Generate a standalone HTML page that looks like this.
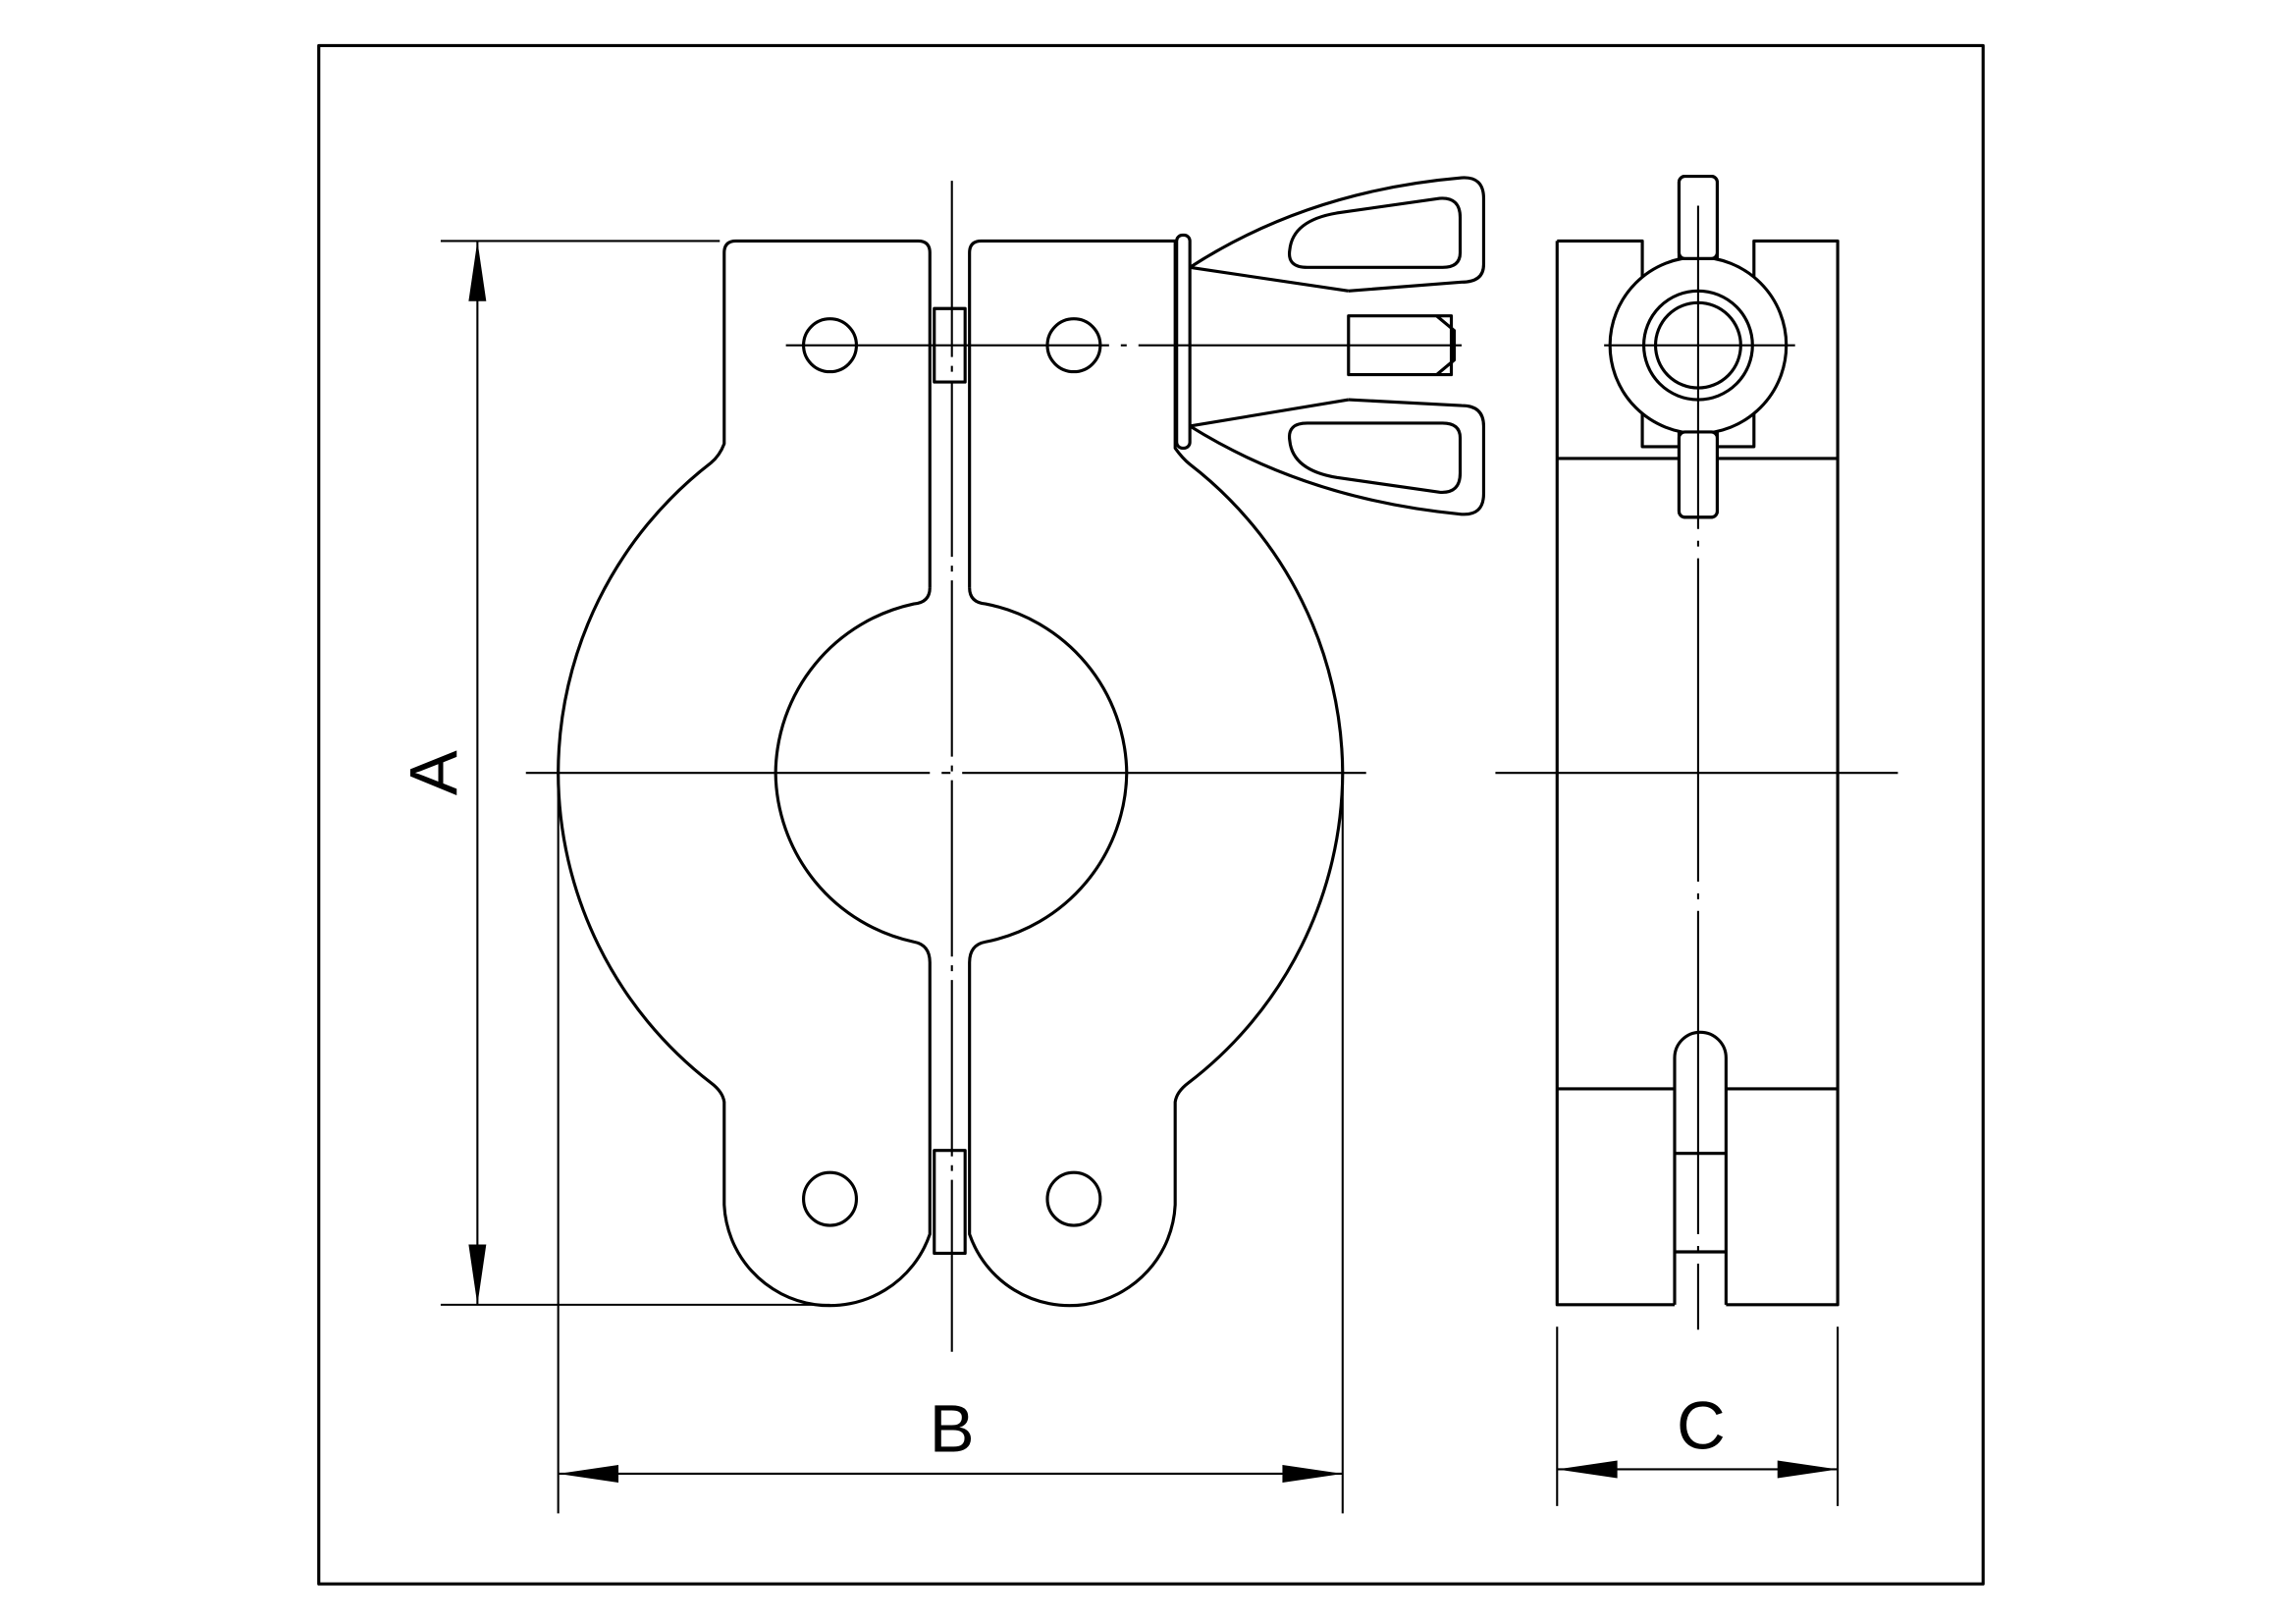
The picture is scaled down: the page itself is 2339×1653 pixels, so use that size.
<!DOCTYPE html>
<html><head><style>html,body{margin:0;padding:0;background:#fff}svg{display:block}</style></head>
<body>
<svg width="2339" height="1653" viewBox="0 0 1563 1104.6" preserveAspectRatio="none" xmlns="http://www.w3.org/2000/svg">
<g fill="none" stroke="#000" stroke-width="2.1" stroke-linejoin="round">
<rect x="217" y="31" width="1133" height="1047"/>
<path d="M633,400 L633,172 Q633,164 625,164 L501,164 Q493,164 493,172 L493,302 Q490,310 484,315 A267,267 0 0 0 380,526"/>
<path d="M633,400 Q633,410 622,411 A119,119 0 0 0 528,526"/>
<path d="M380,526 A267,267 0 0 0 484,737 Q492,743 493,750 L493,820 A72,72 0 0 0 633,840 L633,655 Q633,643 622,641 A119,119 0 0 1 528,526"/>
<path d="M660,400 L660,172 Q660,164 668,164 L800,164 L800,305 Q805,312 810,316 A267,267 0 0 1 914,526"/>
<path d="M660,400 Q660,410 671,411 A119,119 0 0 1 767,526"/>
<path d="M914,526 A267,267 0 0 1 809,737 Q801,743 800,750 L800,820 A72,72 0 0 1 660,840 L660,655 Q660,643 671,641 A119,119 0 0 0 767,526"/>
<rect x="636" y="210" width="21" height="50"/>
<rect x="636" y="783" width="21" height="70"/>
<circle cx="565" cy="235" r="18"/><circle cx="731" cy="235" r="18"/>
<circle cx="565" cy="816" r="18"/><circle cx="731" cy="816" r="18"/>
<rect x="801" y="160" width="9" height="145" rx="4"/>
<path d="M810,182 L918,198 M810,290 L918,272"/>
<rect x="918" y="215" width="70" height="40"/>
<path d="M978,215 L990,225 L990,245 L978,255"/>
<path d="M810,182 Q890,130 995,121 Q1010,120 1010,135 L1010,180 Q1010,192 995,192 L918,198"/>
<path d="M810,290 Q890,340 995,350 Q1010,351 1010,336 L1010,290 Q1010,276 995,276 L918,272"/>
<path d="M878,170 Q880,150 910,145 L980,135 Q994,134 994,148 L994,172 Q994,182 982,182 L890,182 Q876,182 878,170Z"/>
<path d="M878,300 Q880,320 910,325 L980,335 Q994,336 994,322 L994,298 Q994,288 982,288 L890,288 Q876,288 878,300Z"/>
<path d="M1060,164 L1060,888 L1140,888 M1175,888 L1251,888 L1251,164 L1194,164 L1194,190 M1118,190 L1118,164 L1060,164"/>
<path d="M1118,190 L1118,304 L1143,304 M1169,304 L1194,304 L1194,190"/>
<line x1="1060" y1="312" x2="1251" y2="312"/>
<path d="M1060,741 L1140,741 M1175,741 L1251,741"/>
<path d="M1140,888 L1140,720 A17.5,17.5 0 0 1 1175,720 L1175,888"/>
<path d="M1140,785 L1175,785 M1140,852 L1175,852"/>
<rect x="1143" y="120" width="26" height="232" rx="4"/>
<circle cx="1156" cy="235" r="60" fill="#fff"/>
<circle cx="1156" cy="235" r="37"/>
<circle cx="1156" cy="235" r="29"/>
<rect x="1143" y="120" width="26" height="56" rx="4" fill="#fff"/>
<rect x="1143" y="294" width="26" height="58" rx="4" fill="#fff"/>
</g>
<g fill="none" stroke="#000" stroke-width="1.4">
<line x1="648" y1="123" x2="648" y2="920" stroke-dasharray="120,6,4,6"/>
<line x1="358" y1="526" x2="938" y2="526" stroke-dasharray="275,8,6,8"/>
<line x1="535" y1="235" x2="995" y2="235" stroke-dasharray="220,8,4,8"/>
<line x1="1156" y1="140" x2="1156" y2="905" stroke-dasharray="220,8,4,8"/>
<line x1="1018" y1="526" x2="1292" y2="526"/>
<line x1="1092" y1="235" x2="1222" y2="235"/>
<line x1="300" y1="164" x2="490" y2="164"/>
<line x1="300" y1="888" x2="565" y2="888"/>
<line x1="325" y1="164" x2="325" y2="888"/>
<line x1="380" y1="530" x2="380" y2="1030"/>
<line x1="914" y1="530" x2="914" y2="1030"/>
<line x1="380" y1="1003" x2="914" y2="1003"/>
<line x1="1060" y1="903" x2="1060" y2="1025"/>
<line x1="1251" y1="903" x2="1251" y2="1025"/>
<line x1="1060" y1="1000" x2="1251" y2="1000"/>
</g>
<g fill="#000">
<path d="M325,164 L319,205 L331,205Z"/><path d="M325,888 L319,847 L331,847Z"/>
<path d="M380,1003 L421,997 L421,1009Z"/><path d="M914,1003 L873,997 L873,1009Z"/>
<path d="M1060,1000 L1101,994 L1101,1006Z"/><path d="M1251,1000 L1210,994 L1210,1006Z"/>
</g>
<g font-family="Liberation Sans, sans-serif" font-size="46" fill="#000" text-anchor="middle">
<text x="295" y="526" transform="rotate(-90 295 526)" dy="16">A</text>
<text x="648" y="988">B</text>
<text x="1158" y="986">C</text>
</g>
</svg>
</body></html>
